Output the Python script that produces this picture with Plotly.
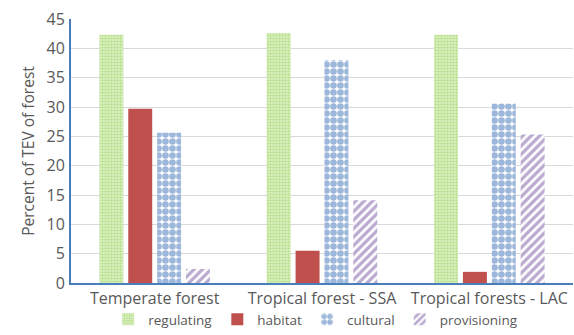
"""
Share of TEV of forest by service type.
"""

import plotly.graph_objects as go

categories = ["Temperate forest", "Tropical forest - SSA", "Tropical forests - LAC"]
regulating = [42.3, 42.6, 42.3]
habitat = [29.7, 5.5, 1.9]
cultural = [25.6, 38.0, 30.6]
provisioning = [2.4, 14.1, 25.3]

grey = "#595959"
axis_blue = "#4A7EBB"

fig = go.Figure()
fig.add_trace(go.Bar(x=categories, y=regulating, name="regulating",
                     marker=dict(color="white", line=dict(width=0),
                                 pattern=dict(shape=".", fgcolor="#92D050", bgcolor="#E2F2D0",
                                              size=3, solidity=0.6))))
fig.add_trace(go.Bar(x=categories, y=habitat, name="habitat",
                     marker=dict(color="#C0504D", line=dict(width=0))))
fig.add_trace(go.Bar(x=categories, y=cultural, name="cultural",
                     marker=dict(color="white", line=dict(width=0),
                                 pattern=dict(shape=".", fgcolor="#3A6FB5", bgcolor="white",
                                              size=7, solidity=0.7))))
fig.add_trace(go.Bar(x=categories, y=provisioning, name="provisioning",
                     marker=dict(color="white", line=dict(width=0),
                                 pattern=dict(shape="/", fgcolor="#7556A0", bgcolor="white",
                                              size=6, solidity=0.55))))

fig.update_layout(
    width=574, height=335,
    margin=dict(l=71, r=1, t=19, b=52),
    paper_bgcolor="white", plot_bgcolor="white",
    font=dict(family="Open Sans", color=grey, size=14),
    barmode="group", bargap=0.31, bargroupgap=0.17,
    legend=dict(orientation="h", x=0.55, xanchor="center", xref="container",
                y=0, yanchor="bottom", yref="container", bgcolor="rgba(0,0,0,0)",
                font=dict(size=13.5, color=grey), itemwidth=30, traceorder="normal"),
    xaxis=dict(showline=True, linecolor=axis_blue, linewidth=2, ticks="",
               automargin=False, ticklabelstandoff=0,
               tickfont=dict(size=16, color=grey)),
    yaxis=dict(range=[0, 45], dtick=5, showline=True, linecolor=axis_blue, linewidth=2,
               gridcolor="#D9D9D9", gridwidth=1, ticks="", zeroline=False,
               automargin=False, ticklabelstandoff=1,
               tickfont=dict(size=16, color=grey),
               title=dict(text="Percent of TEV of forest", font=dict(size=15.5, color=grey),
                          standoff=8)),
)

# page body has a default margin, drop it so the chart sits at 0,0
fig.write_html("out.html", config={"displayModeBar": False},
               post_script="document.body.style.margin='0';")
